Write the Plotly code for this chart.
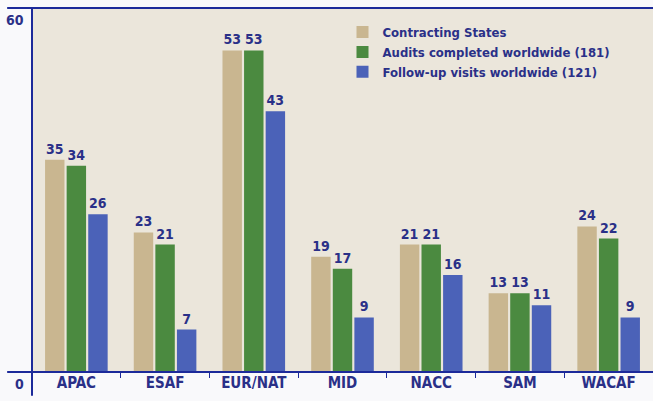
import plotly.graph_objects as go

categories = ["APAC", "ESAF", "EUR/NAT", "MID", "NACC", "SAM", "WACAF"]
contracting_states = [35, 23, 53, 19, 21, 13, 24]
audits_completed = [34, 21, 53, 17, 21, 13, 22]
followup_visits = [26, 7, 43, 9, 16, 11, 9]
series_names = ["Contracting States", "Audits completed worldwide (181)", "Follow-up visits worldwide (121)"]
series_colors = ["#c9b690", "#4b8a40", "#4b62b8"]
y_labels = ["0", "60"]

navy = "#2a3088"
line_col = "#1c2a9a"
font_fam = "DejaVu Sans Condensed, Liberation Sans Narrow, Arial Narrow, sans-serif"

fig = go.Figure()
for name, vals, col in zip(series_names, [contracting_states, audits_completed, followup_visits], series_colors):
    fig.add_trace(go.Bar(
        x=categories, y=vals, name=name, marker=dict(color=col, line=dict(width=0)),
        text=[str(v) for v in vals], textposition="outside", cliponaxis=False,
        textfont=dict(family=font_fam, size=14, color=navy, weight="bold"),
    ))

fig.update_layout(
    width=653, height=401,
    margin=dict(l=32, r=0, t=8, b=29),
    barmode="group", bargap=0.27, bargroupgap=0.1,
    paper_bgcolor="#f9f9fb", plot_bgcolor="#ebe6db",
    font=dict(family=font_fam, color=navy, size=13),
    showlegend=True,
    legend=dict(x=0.5, y=0.975, xanchor="left", yanchor="top", bgcolor="rgba(0,0,0,0)",
                font=dict(family=font_fam, size=13, color=navy, weight="bold"), tracegroupgap=0,
                itemwidth=30, traceorder="normal"),
    xaxis=dict(range=[-0.5, 6.5], showgrid=False, zeroline=False, ticks="outside",
               tickson="boundaries", ticklen=5, tickcolor=line_col, showline=False,
               tickfont=dict(family=font_fam, size=15, color=navy, weight="bold")),
    yaxis=dict(range=[0, 60], showgrid=False, zeroline=False,
               showline=False, ticks="", showticklabels=False),
)

# y-axis labels (drawn slightly below their value, as in the original)
for lab in y_labels:
    fig.add_annotation(x=-0.009, xref="paper", y=float(lab), yref="y", text=lab,
                       showarrow=False, xanchor="right", yanchor="top", yshift=-2,
                       font=dict(family=font_fam, size=14, color=navy, weight="bold"))

# frame lines
fig.add_shape(type="line", xref="paper", yref="paper", x0=-0.04, x1=1, y0=1, y1=1,
              line=dict(color=line_col, width=2))
fig.add_shape(type="line", xref="paper", yref="paper", x0=-0.04, x1=1, y0=0, y1=0,
              line=dict(color=line_col, width=2))
fig.add_shape(type="line", xref="paper", yref="paper", x0=0, x1=0, y0=1, y1=-0.065,
              line=dict(color=line_col, width=2))

fig.write_html("out.html")
